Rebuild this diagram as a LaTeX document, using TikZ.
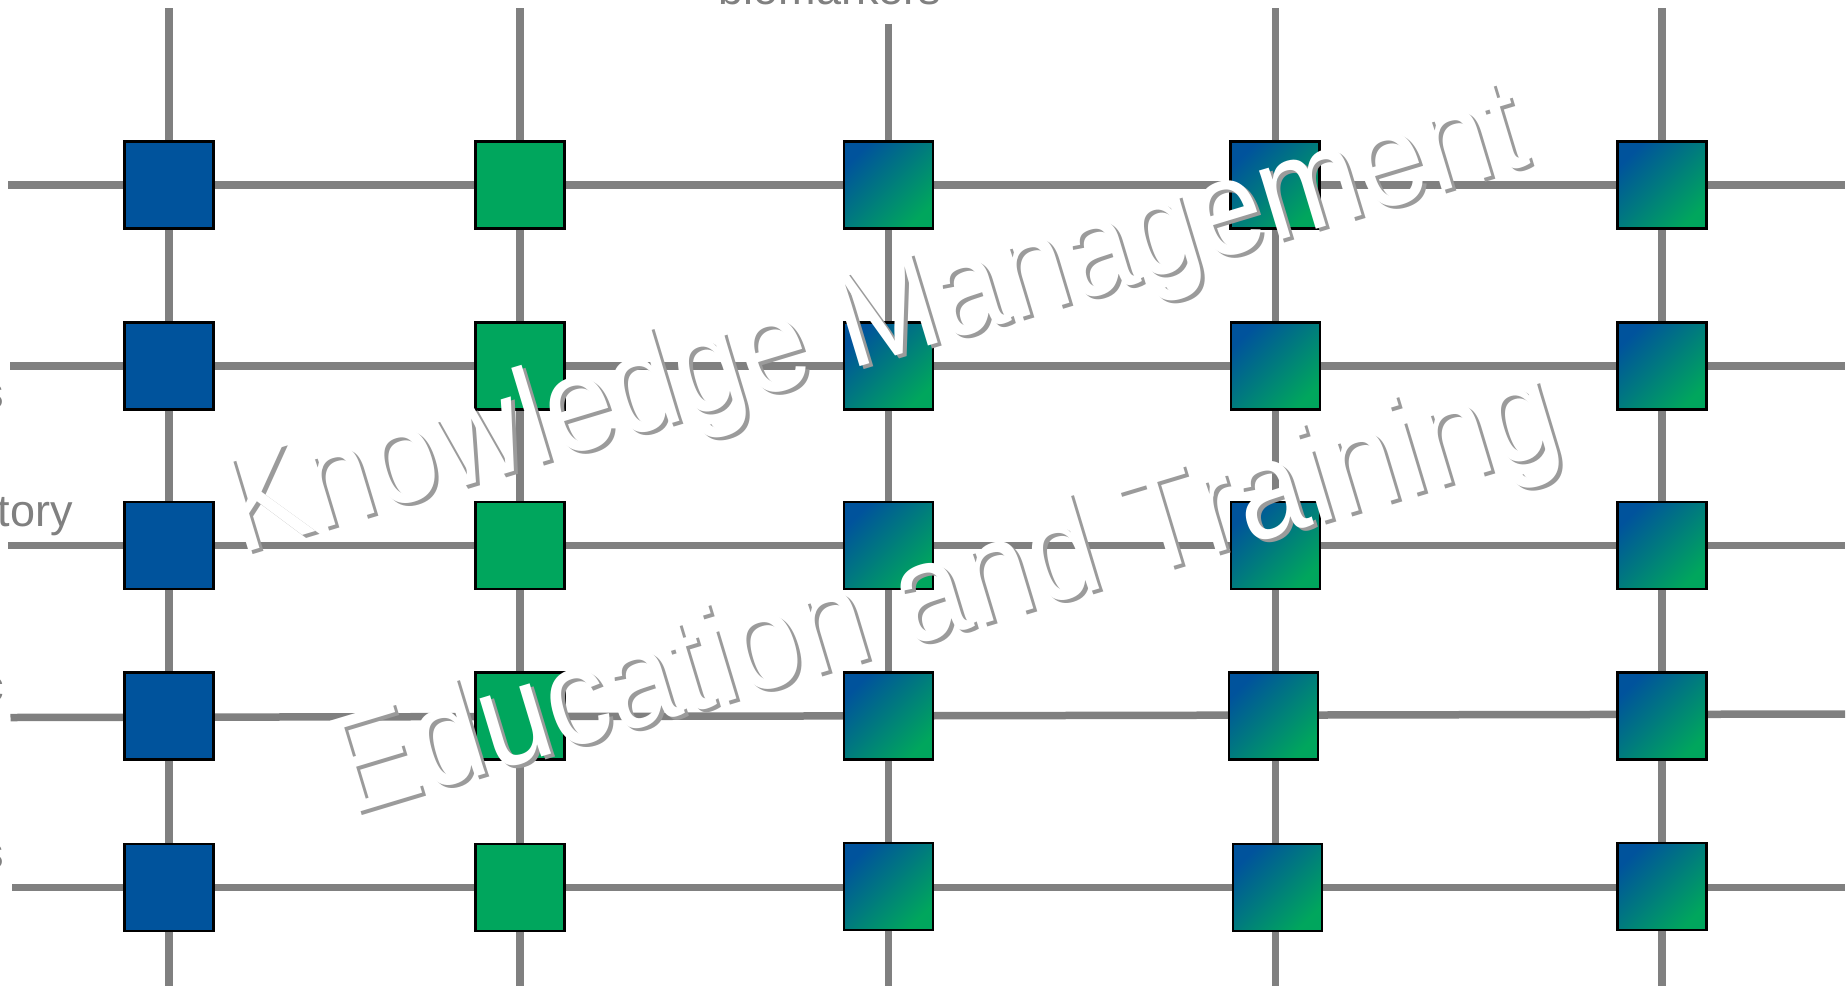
\documentclass[tikz,border=0pt]{standalone}
\usepackage{fontspec}
\setmainfont{Liberation Sans}
\definecolor{gridgray}{RGB}{128,128,128}
\definecolor{kblue}{RGB}{0,83,156}
\definecolor{kgreen}{RGB}{0,166,93}
\definecolor{shadowgray}{RGB}{155,155,155}
\begin{document}
\begin{tikzpicture}[x=1pt,y=-1pt,
  gridline/.style={draw=gridgray,line width=7.5pt},
  sq/.style={draw=black,line width=2.5pt,minimum width=89pt,minimum height=87pt,inner sep=0pt},
  bluesq/.style={sq,fill=kblue},
  greensq/.style={sq,fill=kgreen},
  gradsq/.style={sq,top color=kblue,bottom color=kgreen,shading angle=45},
  lbl/.style={text=gridgray,font=\fontsize{45}{54}\selectfont,inner sep=0pt},
  wm/.style={font=\fontsize{122}{146}\selectfont,inner sep=0pt,anchor=base,rotate=16.8,yscale=1.12},
  wmshadow/.style={wm,text=shadowgray},
  wmtext/.style={wm,text=white}]
\useasboundingbox (0,0) rectangle (1847,986);
% line end points
\coordinate (v1t) at (169,8);    \coordinate (v1b) at (169,986);
\coordinate (v2t) at (520,8);    \coordinate (v2b) at (520,986);
\coordinate (v3t) at (888.5,23.5); \coordinate (v3b) at (888.5,986);
\coordinate (v4t) at (1275.5,8); \coordinate (v4b) at (1275.5,986);
\coordinate (v5t) at (1662,8);   \coordinate (v5b) at (1662,986);
\coordinate (h1l) at (8,185);    \coordinate (h1r) at (1845,185);
\coordinate (h2l) at (10,366);   \coordinate (h2r) at (1845,366);
\coordinate (h3l) at (8,545.5);  \coordinate (h3r) at (1845,545.5);
\coordinate (h4l) at (10.5,717.5); \coordinate (h4r) at (1845,714);
\coordinate (h5l) at (12,887.5); \coordinate (h5r) at (1845,887.5);
% grid lines
\draw[gridline] (v1t) -- (v1b);
\draw[gridline] (v2t) -- (v2b);
\draw[gridline] (v3t) -- (v3b);
\draw[gridline] (v4t) -- (v4b);
\draw[gridline] (v5t) -- (v5b);
\draw[gridline] (h1l) -- (h1r);
\draw[gridline] (h2l) -- (h2r);
\draw[gridline] (h3l) -- (h3r);
\draw[gridline] (h4l) -- (h4r);
\draw[gridline] (h5l) -- (h5r);
% labels (cut off by the frame)
\node[lbl,anchor=base] (lbio) at (830,4) {biomarkers};
\node[lbl,anchor=base east] (lrow2) at (4,408) {s};
\node[lbl,anchor=base east] (lrow3) at (73,526) {tory};
\node[lbl,anchor=base east] (lrow4) at (4,701) {c};
\node[lbl,anchor=base east] (lrow5) at (4,868) {s};
% column 1
\node[bluesq] (s11) at (169,185) {};
\node[bluesq] (s21) at (169,366) {};
\node[bluesq] (s31) at (169,545.5) {};
\node[bluesq] (s41) at (169,716) {};
\node[bluesq] (s51) at (169,887.5) {};
% column 2
\node[greensq] (s12) at (520,185) {};
\node[greensq] (s22) at (520,366) {};
\node[greensq] (s32) at (520,545.5) {};
\node[greensq] (s42) at (520,716) {};
\node[greensq] (s52) at (520,887.5) {};
% column 3
\node[gradsq] (s13) at (888.5,185) {};
\node[gradsq] (s23) at (888.5,366) {};
\node[gradsq] (s33) at (888.5,545.5) {};
\node[gradsq] (s43) at (888.5,716) {};
\node[gradsq] (s53) at (888.5,886.5) {};
% column 4
\node[gradsq] (s14) at (1275,185) {};
\node[gradsq] (s24) at (1275.5,366) {};
\node[gradsq] (s34) at (1275.5,545.5) {};
\node[gradsq] (s44) at (1273.5,716) {};
\node[gradsq] (s54) at (1277.5,887.5) {};
% column 5
\node[gradsq] (s15) at (1662,185) {};
\node[gradsq] (s25) at (1662,366) {};
\node[gradsq] (s35) at (1662,545.5) {};
\node[gradsq] (s45) at (1662,716) {};
\node[gradsq] (s55) at (1662,886.5) {};
% watermark
\node[wmshadow] (wm1s) at (890,362) {Knowledge Management};
\node[wmtext]   (wm1)  at (886,359) {Knowledge Management};
\node[wmshadow,font=\fontsize{124}{148}\selectfont] (wm2s) at (961,635) {Education and Training};
\node[wmtext,font=\fontsize{124}{148}\selectfont]   (wm2)  at (957,632) {Education and Training};
\end{tikzpicture}
\end{document}
